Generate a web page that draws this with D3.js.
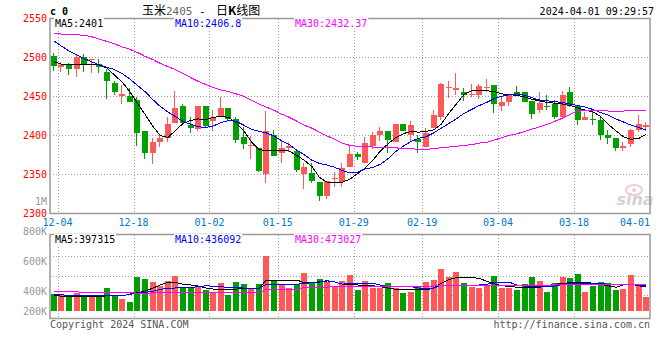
<!DOCTYPE html>
<html><head><meta charset="utf-8">
<script src="https://cdn.jsdelivr.net/npm/d3@7"></script>
<style>
body{margin:0;background:#fff}
svg{display:block}
text{font-family:"DejaVu Sans Mono","Liberation Mono",monospace;font-size:10px}
</style>
</head><body>
<svg id="c" width="660" height="360"></svg>
<script>
// ---------------- DATA ----------------
const dates = ["12-04","12-05","12-06","12-07","12-08","12-11","12-12","12-13","12-14","12-15",
"12-18","12-19","12-20","12-21","12-22","12-25","12-26","12-27","12-28","12-29",
"01-02","01-03","01-04","01-05","01-08","01-09","01-10","01-11","01-12","01-15",
"01-16","01-17","01-18","01-19","01-22","01-23","01-24","01-25","01-26","01-29",
"01-30","01-31","02-01","02-02","02-05","02-06","02-07","02-08","02-19","02-20",
"02-21","02-22","02-23","02-26","02-27","02-28","02-29","03-01","03-04","03-05",
"03-06","03-07","03-08","03-11","03-12","03-13","03-14","03-15","03-18","03-19",
"03-20","03-21","03-22","03-25","03-26","03-27","03-28","03-29","04-01"];
const opens = [2502,2487,2490,2485,2500,2496,2491,2481,2467,2450,
2450,2445,2406,2378,2392,2396,2416,2438,2413,2408,
2437,2418,2424,2435,2421,2398,2387,2384,2350,2401,
2378,2384,2380,2350,2352,2340,2322,2345,2340,2360,
2376,2364,2386,2401,2406,2392,2414,2401,2395,2385,
2409,2424,2460,2458,2455,2452,2452,2461,2464,2438,
2443,2455,2456,2444,2432,2438,2440,2424,2455,2438,
2420,2421,2420,2401,2397,2384,2389,2407,2410];
const highs = [2505,2494,2492,2503,2504,2498,2498,2485,2470,2464,
2461,2449,2406,2396,2400,2424,2457,2440,2424,2437,
2438,2432,2449,2435,2424,2411,2399,2384,2431,2407,
2394,2392,2380,2365,2365,2340,2341,2353,2364,2388,
2379,2398,2404,2411,2406,2415,2415,2418,2401,2409,
2432,2467,2469,2480,2460,2466,2465,2472,2464,2449,
2453,2463,2456,2444,2455,2451,2445,2457,2462,2438,
2430,2431,2424,2407,2397,2392,2408,2426,2417];
const lows = [2482,2481,2477,2474,2481,2480,2480,2447,2451,2440,
2443,2386,2370,2363,2385,2392,2416,2413,2403,2406,
2411,2406,2424,2419,2390,2382,2370,2353,2339,2373,
2365,2379,2353,2331,2339,2316,2318,2334,2334,2360,
2368,2364,2383,2393,2378,2392,2406,2393,2377,2385,
2409,2420,2448,2452,2444,2449,2447,2455,2429,2431,
2438,2452,2442,2421,2429,2432,2421,2421,2436,2413,
2419,2413,2394,2389,2380,2380,2385,2404,2406];
const closes = [2489,2490,2485,2500,2491,2498,2487,2469,2456,2453,
2443,2403,2378,2391,2397,2415,2435,2416,2409,2437,
2412,2424,2435,2421,2394,2389,2388,2354,2406,2373,
2384,2386,2355,2359,2342,2323,2341,2346,2358,2376,
2372,2390,2401,2406,2394,2415,2406,2413,2391,2403,
2426,2465,2462,2460,2452,2453,2463,2462,2440,2443,
2452,2452,2443,2427,2441,2437,2423,2451,2439,2419,
2424,2420,2401,2397,2384,2386,2407,2415,2413];
const volumes = [378000,380000,373000,384000,370000,370000,370000,422000,367000,347000,
329000,495000,480000,462000,435000,467000,500000,418000,418000,429000,
407000,395000,453000,373000,458000,447000,411000,447000,633000,467000,
445000,418000,445000,518000,458000,480000,462000,429000,467000,507000,
407000,467000,422000,422000,451000,418000,389000,395000,435000,462000,
473000,547000,495000,529000,451000,429000,418000,433000,502000,418000,
422000,407000,445000,495000,467000,395000,451000,495000,489000,513000,
392000,433000,462000,451000,407000,413000,507000,447000,362000];
const ma5 = [2494,2491,2490,2490,2490,2490,2490,2486,2477,2468,
2456,2441,2427,2412,2400,2397,2406,2415,2419,2421,
2420,2423,2424,2423,2416,2406,2392,2382,2380,2380,
2380,2380,2374,2368,2360,2346,2340,2340,2340,2344,
2351,2358,2368,2380,2389,2397,2402,2405,2404,2405,
2407,2414,2428,2440,2452,2457,2457,2457,2456,2453,
2452,2451,2449,2446,2444,2442,2441,2440,2438,2435,
2432,2430,2424,2414,2406,2398,2395,2396,2401];
const ma10 = [2521,2514,2508,2503,2498,2494,2490,2487,2484,2479,
2472,2464,2456,2446,2437,2430,2424,2418,2414,2411,
2410,2412,2416,2419,2418,2413,2408,2405,2403,2399,
2393,2388,2381,2375,2368,2364,2362,2359,2355,2352,
2353,2357,2359,2363,2370,2379,2386,2392,2396,2398,
2403,2409,2415,2421,2428,2433,2438,2442,2447,2450,
2452,2453,2451,2448,2445,2444,2443,2442,2440,2438,
2436,2433,2429,2426,2421,2417,2413,2410,2406.8];
const ma30 = [2530,2529.5,2529,2528.5,2528,2526,2523,2520,2517,2513,
2510,2506,2501,2497,2492,2488,2484,2479,2474,2469,
2465,2461,2458,2456,2453,2450,2445,2440,2436,2432,
2427,2423,2418,2413,2409,2404,2399,2395,2390,2387,
2386,2386,2385,2385,2384,2384,2383,2383,2382,2382,
2383,2384,2385,2386,2387,2388,2390,2391,2394,2397,
2400,2402,2405,2408,2411,2414,2418,2422,2427,2431,
2432,2432,2432,2431,2431,2431,2432,2432,2432.37];
const vma5 = [373000,365000,362000,362000,362000,362000,365000,367000,367000,367000,
380000,388000,400000,418000,440000,458000,458000,445000,440000,433000,
420000,413000,413000,413000,413000,415000,418000,418000,473000,473000,
473000,473000,473000,455000,455000,460000,467000,460000,445000,442000,
440000,440000,435000,429000,420000,412000,407000,407000,407000,407000,
420000,451000,475000,489000,489000,489000,485000,465000,448000,435000,
430000,425000,425000,425000,425000,435000,445000,451000,455000,458000,
458000,452000,445000,435000,425000,440000,445000,435000,427000];
const vma10 = [378000,375000,370000,369000,369000,369000,369000,369000,369000,369000,
378000,385000,390000,398000,410000,418000,420000,422000,425000,428000,
435000,432000,428000,425000,422000,420000,418000,418000,445000,445000,
445000,445000,445000,450000,455000,462000,469000,460000,445000,451000,
451000,451000,451000,440000,429000,429000,429000,429000,420000,418000,
418000,440000,440000,440000,440000,440000,440000,445000,458000,458000,
458000,440000,433000,433000,433000,433000,433000,445000,451000,451000,
451000,451000,451000,445000,445000,445000,442000,440000,440000];
const vma30 = [395000,395000,395000,395000,389000,389000,389000,389000,389000,389000,
389000,385000,385000,387000,387000,387000,387000,389000,389000,389000,
389000,389000,389000,389000,389000,389000,389000,389000,411000,411000,
411000,411000,411000,425000,425000,425000,425000,433000,433000,433000,
433000,433000,433000,433000,433000,433000,433000,433000,433000,433000,
433000,437000,437000,437000,437000,437000,437000,437000,437000,437000,
437000,437000,437000,437000,437000,437000,442000,442000,442000,442000,
442000,442000,442000,442000,442000,442000,442000,442000,442000];
const priceTicks = [2550,2500,2450,2400,2350,2300];
const volTicks = [1000000,800000,600000,400000,200000];
const volTickLabels = ["1M","800K","600K","400K","200K"];
const dateTicks = ["12-04","12-18","01-02","01-15","01-29","02-19","03-04","03-18","04-01"];
const priceLegend = ["MA5:2401","MA10:2406.8","MA30:2432.37"];
const volLegend = ["MA5:397315","MA10:436092","MA30:473027"];
const maColors = ["#000000","#0000ff","#ff00ff"];

// ---------------- LAYOUT ----------------
const M = {l:50, r:650, t:18.5, b:213.5};
const V = {t:234.5, b:318.5, floor:311};
const RED = "#ff5858", GREEN = "#00a000";

const svg = d3.select("#c");
const x = d3.scaleBand().domain(dates).range([M.l, M.r]).paddingInner(0.21).paddingOuter(0.105);
const bw = x.bandwidth();
const cx = d => x(d) + bw/2;
const edge = d => x(d) + bw + x.step()*x.paddingInner()/2;
const yP = d3.scaleLinear().domain([2300,2550]).range([213.5,18]);
const yV = d3.scaleLinear().domain([0,1000000]).range([351,201]);

svg.append("rect").attr("width",660).attr("height",360).attr("fill","#fff");

// clips
svg.append("clipPath").attr("id","cm").append("rect").attr("x",M.l).attr("y",M.t).attr("width",M.r-M.l).attr("height",M.b-M.t);
svg.append("clipPath").attr("id","cv").append("rect").attr("x",M.l).attr("y",V.t).attr("width",M.r-M.l).attr("height",V.floor-V.t);

// grids
const grid = svg.append("g").attr("stroke","#a0a0a0").attr("stroke-dasharray","1,2").attr("shape-rendering","crispEdges");
priceTicks.filter(v => v>2300 && v<2550).forEach(v => {
  const y = Math.round(yP(v))+0.5;
  grid.append("line").attr("x1",M.l).attr("x2",M.r).attr("y1",y).attr("y2",y);
});
dateTicks.slice(0,-1).forEach(d => {
  const xx = Math.round(edge(d))+0.5;
  grid.append("line").attr("x1",xx).attr("x2",xx).attr("y1",M.t).attr("y2",M.b);
  grid.append("line").attr("x1",xx).attr("x2",xx).attr("y1",V.t).attr("y2",V.b);
});
const vStep = (V.floor - V.t + 2)/4;
[1,2,3].forEach(k => {
  const y = Math.round(V.t + 2 + k*vStep)+0.5;
  grid.append("line").attr("x1",M.l).attr("x2",M.r).attr("y1",y).attr("y2",y);
});

// sina watermark (behind marks)
const wm = svg.append("g").attr("opacity",0.55);
wm.append("ellipse").attr("cx",634).attr("cy",190).attr("rx",8).attr("ry",5).attr("fill","none").attr("stroke","#f0a0a0").attr("stroke-width",2);
wm.append("circle").attr("cx",634).attr("cy",190).attr("r",2).attr("fill","#f0a0a0");
wm.append("text").attr("x",635).attr("y",205).attr("text-anchor","middle").attr("font-style","italic").attr("font-weight","bold")
  .style("font-family","'DejaVu Sans',sans-serif").style("font-size","16px").attr("fill","#b0b0b0").text("sina");

// candles
const cg = svg.append("g").attr("clip-path","url(#cm)").attr("shape-rendering","crispEdges");
dates.forEach((d,i) => {
  const up = closes[i] >= opens[i];
  const col = up ? RED : GREEN;
  const x0 = Math.round(x(d));
  const wx = x0 + 2.5;
  cg.append("line").attr("x1",wx).attr("x2",wx).attr("y1",yP(highs[i])).attr("y2",yP(lows[i])).attr("stroke",col);
  const yt = yP(Math.max(opens[i],closes[i])), yb = yP(Math.min(opens[i],closes[i]));
  cg.append("rect").attr("x",x0).attr("width",6).attr("y",Math.round(yt)).attr("height",Math.max(1,Math.round(yb)-Math.round(yt))).attr("fill",col);
});

// MA lines (price)
const lp = d3.line().x((v,i) => cx(dates[i])).y(v => yP(v));
[ma5,ma10,ma30].forEach((arr,k) => {
  svg.append("path").attr("clip-path","url(#cm)").attr("d",lp(arr)).attr("fill","none")
    .attr("stroke",maColors[k]).attr("stroke-width",1).attr("shape-rendering","crispEdges");
});

// volume bars
const vg = svg.append("g").attr("clip-path","url(#cv)").attr("shape-rendering","crispEdges");
dates.forEach((d,i) => {
  const up = closes[i] >= opens[i];
  const y = Math.round(yV(volumes[i]));
  vg.append("rect").attr("x",Math.round(x(d))).attr("width",6).attr("y",y).attr("height",V.floor - y).attr("fill", up ? RED : GREEN);
});
const lv = d3.line().x((v,i) => cx(dates[i])).y(v => yV(v));
[vma5,vma10,vma30].forEach((arr,k) => {
  svg.append("path").attr("clip-path","url(#cv)").attr("d",lv(arr)).attr("fill","none")
    .attr("stroke",maColors[k]).attr("stroke-width",1).attr("shape-rendering","crispEdges");
});

// borders
const bd = svg.append("g").attr("fill","none").attr("stroke","#999").attr("stroke-width",1.5);
bd.append("rect").attr("x",M.l).attr("y",M.t).attr("width",M.r-M.l).attr("height",M.b-M.t);
bd.append("rect").attr("x",M.l).attr("y",V.t).attr("width",M.r-M.l).attr("height",V.b-V.t);

// price axis labels
priceTicks.forEach(v => {
  svg.append("text").attr("x",47).attr("y",yP(v)).attr("dy","0.35em").attr("text-anchor","end")
    .attr("fill","#ff0000").text(v);
});
// volume axis labels
volTicks.forEach((v,k) => {
  svg.append("text").attr("x",47).attr("y",Math.min(yV(v), V.floor)).attr("dy","0.35em").attr("text-anchor","end")
    .attr("fill","#999").text(volTickLabels[k]);
});
// date labels
dateTicks.forEach((d,k) => {
  const last = k === dateTicks.length-1;
  svg.append("text").attr("x", last ? M.r : edge(d)).attr("y",226)
    .attr("text-anchor", last ? "end" : "middle").attr("fill","#0078d0").text(d);
});

// legends with white background
function legend(texts, y){
  texts.forEach((t,k) => {
    const g = svg.append("g");
    const r = g.append("rect").attr("fill","#fff");
    const tx = g.append("text").attr("x",55+120*k).attr("y",y).attr("fill",maColors[k]).text(t);
    const b = tx.node().getBBox();
    r.attr("x",b.x-1).attr("y",b.y).attr("width",b.width+2).attr("height",b.height);
  });
}
legend(priceLegend, 26.5);
legend(volLegend, 243);

// header
svg.append("text").attr("x",50).attr("y",15).attr("font-weight","bold").attr("font-size","11px").attr("fill","#000").text("c 0");
const cjk = "'Noto Sans CJK SC',sans-serif";
svg.append("text").attr("x",142).attr("y",15).style("font-family",cjk).style("font-size","12px").attr("fill","#000").text("玉米");
svg.append("text").attr("x",166).attr("y",15).style("font-size","11px").attr("fill","#666").text("2405");
svg.append("text").attr("x",199).attr("y",15).style("font-size","11px").attr("fill","#000").text("-");
const t2 = svg.append("text").attr("x",216).attr("y",15).style("font-family",cjk).style("font-size","12px").attr("fill","#000");
t2.append("tspan").text("日");
t2.append("tspan").attr("font-weight","bold").text("K");
t2.append("tspan").text("线图");
svg.append("text").attr("x",654).attr("y",15).attr("text-anchor","end").attr("fill","#000").text("2024-04-01 09:29:57");

// footer
svg.append("text").attr("x",50).attr("y",328).attr("fill","#555").text("Copyright 2024 SINA.COM");
svg.append("text").attr("x",650).attr("y",328).attr("text-anchor","end").attr("fill","#555").text("http://finance.sina.com.cn");
</script>
</body></html>
